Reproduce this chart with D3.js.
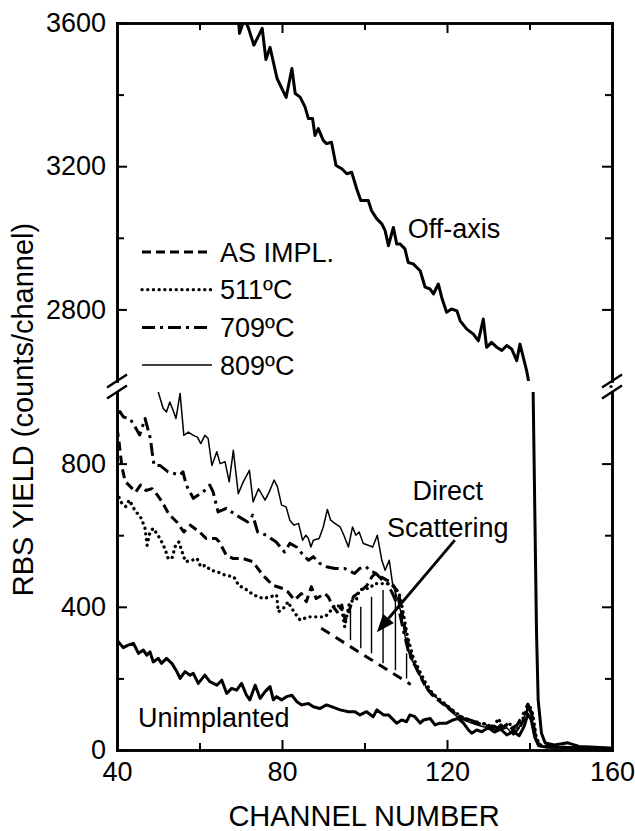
<!DOCTYPE html>
<html>
<head>
<meta charset="utf-8">
<script src="https://cdn.jsdelivr.net/npm/d3@7"></script>
<style>
  body { margin: 0; background: #fff; }
  text { font-family: "Liberation Sans", Arial, sans-serif; fill: #000; }
</style>
</head>
<body>
<div id="chart"></div>
<script>
// ---- data: [channel, yield] ----
const offAxis = [[69.4,3620],[69.7,3571],[70.9,3612],[71.8,3588],[73.2,3538],[75.2,3585],[76.1,3498],[77.1,3532],
  [78.8,3445],[81.0,3392],[82.4,3473],[83.2,3403],[84.4,3393],[85.6,3365],[86.4,3333],[87.4,3333],[88.0,3286],
  [88.8,3305],[90.0,3272],[90.8,3263],[92.0,3267],[93.1,3202],[94.5,3193],[95.7,3179],[96.9,3183],[98.1,3137],
  [99.1,3104],[100.9,3104],[101.7,3076],[103.0,3053],[104.2,3039],[105.0,3020],[105.8,2978],[107.0,3029],
  [107.8,2983],[108.6,2983],[109.8,2969],[110.6,2931],[111.8,2927],[113.5,2908],[114.7,2862],[115.9,2857],
  [116.7,2843],[117.9,2871],[118.7,2834],[119.9,2792],[121.1,2801],[122.4,2796],[123.2,2768],[124.8,2745],
  [126.4,2731],[127.6,2712],[128.8,2773],[129.6,2694],[130.8,2708],[132.1,2694],[133.3,2685],[134.5,2699],
  [135.7,2689],[136.9,2657],[137.7,2703],[138.5,2666],[139.3,2629],[139.7,2605],
  [140.9,985],[141.7,330],[142.1,140],[142.9,47],[143.8,20],[146,14],[149.3,20],[152,10],[156,8],[160,5]];

const unimplanted = [[40,307],[41.5,286],[42.7,293],[44.0,298],[45.2,270],[46.4,279],[47.2,265],[48.0,274],
  [48.8,246],[50.0,256],[50.8,242],[52.0,256],[53.3,242],[54.5,219],[55.3,200],[56.5,219],[57.7,209],[58.5,214],
  [59.7,186],[61.3,209],[62.5,191],[64.2,181],[65.4,195],[66.6,158],[67.8,172],[69.0,167],[70.2,186],[71.4,153],
  [72.2,140],[73.5,181],[74.7,144],[75.9,163],[77.1,177],[77.9,140],[78.7,149],[79.9,140],[81.1,149],[82.4,153],
  [83.6,135],[84.8,126],[86.4,130],[87.6,121],[89.2,116],[90.8,126],[92.0,121],[94.1,112],[96.1,107],[97.7,107],
  [98.9,98],[100.5,107],[102.1,93],[103.0,112],[104.6,98],[105.8,98],[107.8,75],[109.0,84],[110.2,79],[111.0,98],
  [112.2,93],[113.5,75],[114.3,84],[115.9,88],[117.1,70],[118.3,75],[119.9,75],[121.5,84],[122.7,88],[124.0,75],
  [125.2,56],[126.0,47],[127.2,56],[128.4,51],[130,62],[131.5,50],[133,58],[134.5,42],[136,52],[137.5,40],
  [138.7,66],[139.6,100],[140.4,85],[141.3,35],[142.2,12],[144,8],[148,7],[152,5],[156,5],[160,4]];

const asImpl = [[40,900],[40.5,860],[41.2,790],[42.0,750],[43.3,735],[44.5,720],[45.7,740],[47,725],[48.5,730],
  [49.8,712],[51.0,692],[52.5,660],[54.5,637],[56.2,609],[57.8,628],[60,609],[61.6,591],[64.0,591],[64.8,581],
  [66.5,544],[68.1,535],[70.5,535],[72.9,526],[75.4,488],[77.8,460],[80.2,451],[81.4,442],[83.0,419],[84.7,437],
  [85.9,414],[87.1,456],[88.3,423],[90.4,437],[91.2,428],[92.4,400],[93.7,381],[94.5,405],[95.3,363],[96.1,381],
  [97.3,428],[99.4,447],[100.6,460],[101.8,484],[102.6,493],[103.9,484],[105.5,474],[106.7,465],[108.3,437],
  [109,390],[110.2,315],[111.5,255],[113,220],[114.6,182],[116.2,156],[117.8,140],[119.4,125],[121,110],[123,92],
  [125,85],[127,76],[129,70],[131,63],[133,60],[134.8,72],[136.4,50],[137.6,62],[138.8,90],[139.8,122],[140.6,100],
  [141.4,42],[142.2,16],[143.5,11],[147,8],[152,6],[156,5],[160,4]];

const t511 = [[40,720],[40.9,693],[42.1,680],[43.0,698],[44.3,670],[45.9,647],[46.8,619],[47.3,572],[48.0,609],
  [48.8,619],[50.4,591],[51.6,563],[52.4,535],[53.3,535],[54.2,572],[55.0,581],[55.8,553],[56.6,526],[58.2,530],
  [59.4,535],[60.3,512],[61.5,516],[62.7,502],[64.3,498],[66.3,488],[68.3,484],[69.5,460],[71.5,447],[73.1,433],
  [75.5,423],[77.1,428],[78.7,433],[79.1,386],[80.3,395],[81.5,414],[82.1,400],[83.2,381],[84.4,363],[86.4,372],
  [88.8,372],[90.4,372],[91.6,386],[92.8,405],[94.4,400],[95.2,344],[96.4,414],[98.0,419],[98.8,447],[100.0,451],
  [101.2,451],[102.4,465],[104.0,465],[105.6,465],[107.2,456],[108.4,437],[109.2,395],[110.4,318],[111.8,258],
  [113.3,222],[114.9,185],[116.5,158],[118.1,142],[119.7,127],[121.3,112],[123.3,94],[125.3,83],[127.3,76],
  [129.3,72],[131.3,64],[132.5,88],[133.5,62],[135,75],[136.8,55],[138,75],[139.3,115],[140,125],[140.8,100],
  [141.6,38],[142.4,14],[143.8,10],[147,8],[152,6],[156,5],[160,4]];

const t709 = [[40,940],[40.7,945],[41.6,930],[43.2,925],[44.5,900],[45.5,880],[46.8,926],[48.1,870],[48.5,833],
  [49.0,795],[50.4,795],[52.4,777],[55.2,768],[56.0,777],[56.8,740],[58.5,703],[60.9,721],[62.5,740],[63.3,721],
  [64.5,665],[66.5,675],[68.9,656],[71.7,637],[72.9,656],[74.1,609],[76.2,600],[78.6,581],[80.6,553],[81.9,577],
  [83.5,567],[85.2,544],[86.4,530],[87.6,540],[89.2,521],[90.8,512],[92.8,507],[95.2,507],[97.6,493],[98.8,507],
  [100.4,512],[101.2,502],[102.8,493],[104.4,474],[105.6,465],[106.8,437],[108.2,400],[109.5,330],[110.8,268],
  [112.5,230],[114.0,195],[115.6,165],[117.2,150],[118.9,133],[120.5,118],[122.5,97],[124.5,88],[126.5,80],
  [128.5,75],[130.5,68],[132.3,62],[133.8,78],[135.5,60],[137,70],[138.3,96],[139.6,128],[140.3,110],[141.2,45],
  [142,18],[143.5,12],[147,8],[152,6],[156,5],[160,4]];

const t809 = [[49.9,1010],[50.0,1000],[51.2,954],[52.0,944],[52.8,972],[53.6,949],[54.3,926],[55.3,996],[56.2,879],
  [57.3,888],[58.5,879],[59.5,874],[60.3,856],[61.3,879],[62.1,870],[63.0,795],[64.2,833],[65.0,800],[66.2,805],
  [67.2,749],[68.2,837],[69.4,716],[70.6,749],[72.1,781],[73.0,693],[74.3,730],[75.9,698],[76.9,721],[78.1,754],
  [78.9,735],[79.9,684],[81.0,679],[81.9,642],[82.9,628],[84.0,633],[85.0,586],[85.8,600],[86.4,591],[87.0,567],
  [87.6,586],[89.0,591],[90.0,623],[91.0,672],[91.8,642],[92.8,633],[94.1,623],[95.0,600],[96.1,567],[97.1,623],
  [97.9,600],[98.7,609],[99.7,577],[100.9,572],[102.0,567],[103.1,600],[104.2,530],[105.0,502],[106.0,530],
  [106.8,465],[108.2,414],[108.8,385],[109.8,320],[111.0,262],[112.7,225],[114.3,188],[115.9,160],[117.5,146],
  [119.1,128],[120.7,112],[122.7,90],[124.8,80],[126.8,72],[128.8,65],[130.8,60],[132.8,55],[134.5,62],[136.1,42],
  [137.3,58],[138.5,85],[139.7,120],[140.5,95],[141.3,40],[142.1,15],[143.3,10],[146,8],[150,6],[155,5],[160,4]];

// extrapolated background under the direct-scattering peak
const baseLine = [[89.5,340],[111.2,183]];
const hatchCh = [96.6, 99.1, 101.7, 104.5, 107.5, 110.2];
const hatchTop = [391, 400, 428, 447, 447, 270];
const hatchBot = [307, 284, 270, 242, 223, 200];

const arrowFrom = [121.9, 586], arrowTo = [103.0, 329];

const xMajor = [40, 80, 120, 160], xMinor = [60, 100, 140];
const loMajor = [0, 400, 800], loMinor = [200, 600];
const hiMajor = [2800, 3200, 3600], hiMinor = [3000, 3400];

const legendNames = ["AS IMPL.", "511\u00baC", "709\u00baC", "809\u00baC"];

// ---- layout ----
const W = 635, H = 831;
const pL = 117, pR = 612, pT = 23, pB = 750;
const hiBottom = 381, loTop = 392;

const x = d3.scaleLinear().domain([40, 160]).range([pL, pR]);
const yLo = d3.scaleLinear().domain([0, 1000]).range([pB, loTop]);
const yHi = d3.scaleLinear().domain([2600, 3600]).range([hiBottom, pT]);

const svg = d3.select("#chart").append("svg")
  .attr("width", W).attr("height", H);

const defs = svg.append("defs");
defs.append("clipPath").attr("id", "clipLo").append("rect")
  .attr("x", pL).attr("y", loTop).attr("width", pR - pL).attr("height", pB - loTop);
defs.append("clipPath").attr("id", "clipHi").append("rect")
  .attr("x", pL).attr("y", pT).attr("width", pR - pL).attr("height", hiBottom - pT);

const styles = {
  offAxis: {w: 3, dash: null},
  unimplanted: {w: 3, dash: null},
  asImpl: {w: 3, dash: "9,5"},
  t511: {w: 3.3, dash: "0.1,5.6", cap: "round"},
  t709: {w: 3, dash: "13,5,3,5"},
  t809: {w: 1.5, dash: null}
};

function drawSeries(g, data, y, st) {
  const line = d3.line().x(d => x(d[0])).y(d => y(d[1]));
  g.append("path")
    .datum(data)
    .attr("d", line)
    .attr("fill", "none")
    .attr("stroke", "#000")
    .attr("stroke-width", st.w)
    .attr("stroke-linejoin", "round")
    .attr("stroke-linecap", st.cap || "butt")
    .attr("stroke-dasharray", st.dash);
}

// upper panel
const gHi = svg.append("g").attr("clip-path", "url(#clipHi)");
drawSeries(gHi, offAxis, yHi, styles.offAxis);

// lower panel
const gLo = svg.append("g").attr("clip-path", "url(#clipLo)");
drawSeries(gLo, unimplanted, yLo, styles.unimplanted);
drawSeries(gLo, asImpl, yLo, styles.asImpl);
drawSeries(gLo, t511, yLo, styles.t511);
drawSeries(gLo, t709, yLo, styles.t709);
drawSeries(gLo, t809, yLo, styles.t809);
drawSeries(gLo, offAxis, yLo, styles.offAxis);
drawSeries(gLo, baseLine, yLo, {w: 3, dash: "10,7"});

// hatching
gLo.selectAll(".hatch")
  .data(hatchCh)
  .enter().append("line")
  .attr("x1", d => x(d)).attr("x2", d => x(d))
  .attr("y1", (d, i) => yLo(hatchTop[i]))
  .attr("y2", (d, i) => yLo(hatchBot[i]))
  .attr("stroke", "#000").attr("stroke-width", 1.4);

// ---- axes ----
const fmt = d3.format("d");
function styleAxis(g) {
  g.selectAll(".domain").attr("stroke-width", 2.6).attr("stroke-linecap", "square");
  g.selectAll(".tick line").attr("stroke-width", 2);
  g.selectAll("text").style("font-size", "27px").attr("fill", "#000");
}

svg.append("g").attr("transform", `translate(0,${pB})`)
  .call(d3.axisBottom(x).tickValues(xMajor).tickSize(-10).tickSizeOuter(0).tickPadding(12).tickFormat(fmt))
  .call(styleAxis);
svg.append("g").attr("transform", `translate(0,${pB})`)
  .call(d3.axisBottom(x).tickValues(xMinor).tickSize(-7).tickSizeOuter(0).tickFormat(""))
  .call(styleAxis);
svg.append("g").attr("transform", `translate(0,${pT})`)
  .call(d3.axisTop(x).tickValues(xMajor.slice(1, 3)).tickSize(-10).tickSizeOuter(0).tickFormat(""))
  .call(styleAxis);
svg.append("g").attr("transform", `translate(0,${pT})`)
  .call(d3.axisTop(x).tickValues(xMinor).tickSize(-7).tickSizeOuter(0).tickFormat(""))
  .call(styleAxis);

[[yLo, loMajor, loMinor], [yHi, hiMajor, hiMinor]].forEach(([y, maj, mnr]) => {
  svg.append("g").attr("transform", `translate(${pL},0)`)
    .call(d3.axisLeft(y).tickValues(maj).tickSize(-10).tickSizeOuter(0).tickPadding(11).tickFormat(fmt))
    .call(styleAxis);
  svg.append("g").attr("transform", `translate(${pL},0)`)
    .call(d3.axisLeft(y).tickValues(mnr).tickSize(-7).tickSizeOuter(0).tickFormat(""))
    .call(styleAxis);
  svg.append("g").attr("transform", `translate(${pR},0)`)
    .call(d3.axisRight(y).tickValues(maj).tickSize(-10).tickSizeOuter(0).tickFormat(""))
    .call(styleAxis);
  svg.append("g").attr("transform", `translate(${pR},0)`)
    .call(d3.axisRight(y).tickValues(mnr).tickSize(-7).tickSizeOuter(0).tickFormat(""))
    .call(styleAxis);
});

// axis break marks
[pL, pR].forEach(ax => {
  [hiBottom, loTop].forEach(cy => {
    svg.append("line")
      .attr("x1", ax - 10).attr("y1", cy + 6.5)
      .attr("x2", ax + 10).attr("y2", cy - 6.5)
      .attr("stroke", "#000").attr("stroke-width", 2.4);
  });
});
svg.append("circle").attr("cx", pR - 1).attr("cy", (hiBottom + loTop) / 2)
  .attr("r", 1.6).attr("fill", "#000");

// axis titles
svg.append("text")
  .attr("x", (pL + pR) / 2 - 0.5).attr("y", 826)
  .attr("text-anchor", "middle").style("font-size", "29px")
  .text("CHANNEL NUMBER");
svg.append("text")
  .attr("transform", `translate(33,${(pT + pB) / 2 + 23}) rotate(-90)`)
  .attr("text-anchor", "middle").style("font-size", "29px")
  .text("RBS YIELD (counts/channel)");

// ---- legend ----
const legStyles = [styles.asImpl, styles.t511, styles.t709, styles.t809];
const leg = svg.append("g").attr("transform", "translate(142,252)");
legendNames.forEach((name, i) => {
  const row = leg.append("g").attr("transform", `translate(0,${i * 37.7})`);
  row.append("line").attr("x1", 0).attr("x2", 70).attr("y1", 0).attr("y2", 0)
    .attr("stroke", "#000").attr("stroke-width", legStyles[i].w)
    .attr("stroke-linecap", legStyles[i].cap || "butt")
    .attr("stroke-dasharray", legStyles[i].dash);
  row.append("text").attr("x", 78).attr("dy", "0.36em")
    .style("font-size", "27px").text(name);
});

// ---- annotations ----
svg.append("text").attr("x", x(110.5)).attr("y", yHi(3000))
  .style("font-size", "27px").text("Off-axis");
svg.append("text").attr("x", x(45.1)).attr("y", yLo(64))
  .style("font-size", "27px").text("Unimplanted");
svg.append("text").attr("x", x(120.2)).attr("y", yLo(698))
  .attr("text-anchor", "middle").style("font-size", "27px").text("Direct");
svg.append("text").attr("x", x(120.2)).attr("y", yLo(594))
  .attr("text-anchor", "middle").style("font-size", "27px").text("Scattering");

// arrow
const ax0 = x(arrowFrom[0]), ay0 = yLo(arrowFrom[1]);
const ax1 = x(arrowTo[0]), ay1 = yLo(arrowTo[1]);
const ang = Math.atan2(ay1 - ay0, ax1 - ax0);
const headLen = 18, headW = 7;
const bx = ax1 - headLen * Math.cos(ang), by = ay1 - headLen * Math.sin(ang);
svg.append("line")
  .attr("x1", ax0).attr("y1", ay0).attr("x2", bx).attr("y2", by)
  .attr("stroke", "#000").attr("stroke-width", 2.8);
svg.append("path")
  .attr("d", d3.line()([
    [ax1, ay1],
    [bx + headW * Math.sin(ang), by - headW * Math.cos(ang)],
    [bx - headW * Math.sin(ang), by + headW * Math.cos(ang)]
  ]) + "Z")
  .attr("fill", "#000");
</script>
</body>
</html>
